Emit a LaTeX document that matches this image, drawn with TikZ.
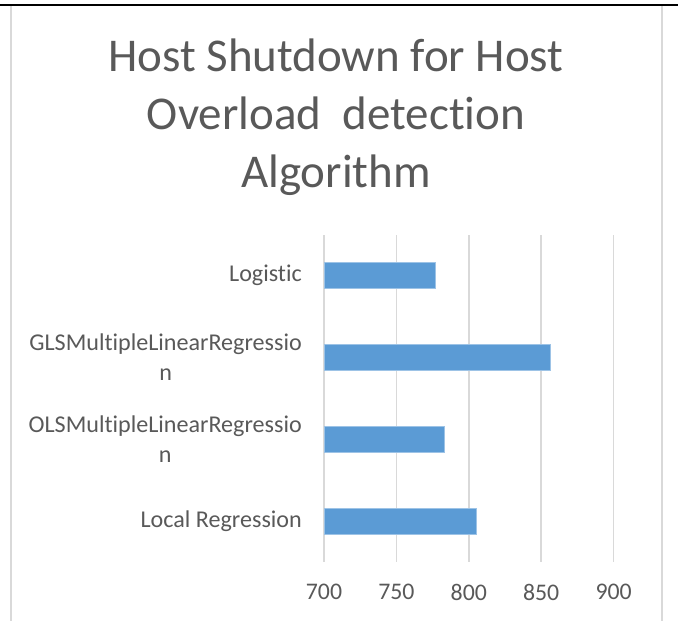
\documentclass[tikz,border=0pt]{standalone}
\usepackage{fontspec}
\setmainfont{Carlito}[Ligatures=NoCommon]
\definecolor{txt}{HTML}{595959}
\definecolor{grid}{HTML}{D9D9D9}
\definecolor{bar}{HTML}{5B9BD5}
\tikzset{
  frameline/.style={draw=grid, line width=1.2pt},
  gridline/.style={draw=grid, line width=1.5pt},
  barbox/.style={fill=bar, draw=bar!60!white, line width=0.6pt},
  catlabel/.style={text=txt, anchor=east, align=center, inner sep=0pt,
    font=\fontsize{24.1}{30}\selectfont},
  ticklabel/.style={text=txt, anchor=center, inner sep=0pt,
    font=\fontsize{23.8}{28}\selectfont},
  titlelabel/.style={text=txt, anchor=center, align=center, inner sep=0pt,
    font=\fontsize{47}{58}\selectfont}
}
\begin{document}
\begin{tikzpicture}[x=1pt,y=-1pt]
\useasboundingbox (0,0) rectangle (678,621);
% top rule and frame
\draw[black, line width=2.5pt] (0,5) -- (678,5);
\draw[frameline] (11,6) -- (11,621);
\draw[frameline] (662,6) -- (662,621);
% title
\node[titlelabel] (title) at (336,117) {Host Shutdown for Host\\Overload~~detection\\Algorithm};
% gridlines
\foreach \v/\x in {700/324,750/396.4,800/468.8,850/541.2,900/613.6}{
  \draw[gridline] (\x,235) -- (\x,562);
  \node[ticklabel] (t\v) at (\x,592) {\v};
}
% bars
\draw[barbox] (324,262.7) rectangle (435.5,288.3);
\draw[barbox] (324,344.7) rectangle (549.9,370.3);
\draw[barbox] (324,426.7) rectangle (444.2,452.3);
\draw[barbox] (324,508.2) rectangle (476.0,533.8);
% category labels
\node[catlabel] (l1) at (302,275.5) {Logistic};
\node[catlabel] (l2) at (302,357.5) {GLSMultipleLinearRegressio\\n};
\node[catlabel] (l3) at (302,439.5) {OLSMultipleLinearRegressio\\n};
\node[catlabel] (l4) at (302,521) {Local Regression};
\end{tikzpicture}
\end{document}
